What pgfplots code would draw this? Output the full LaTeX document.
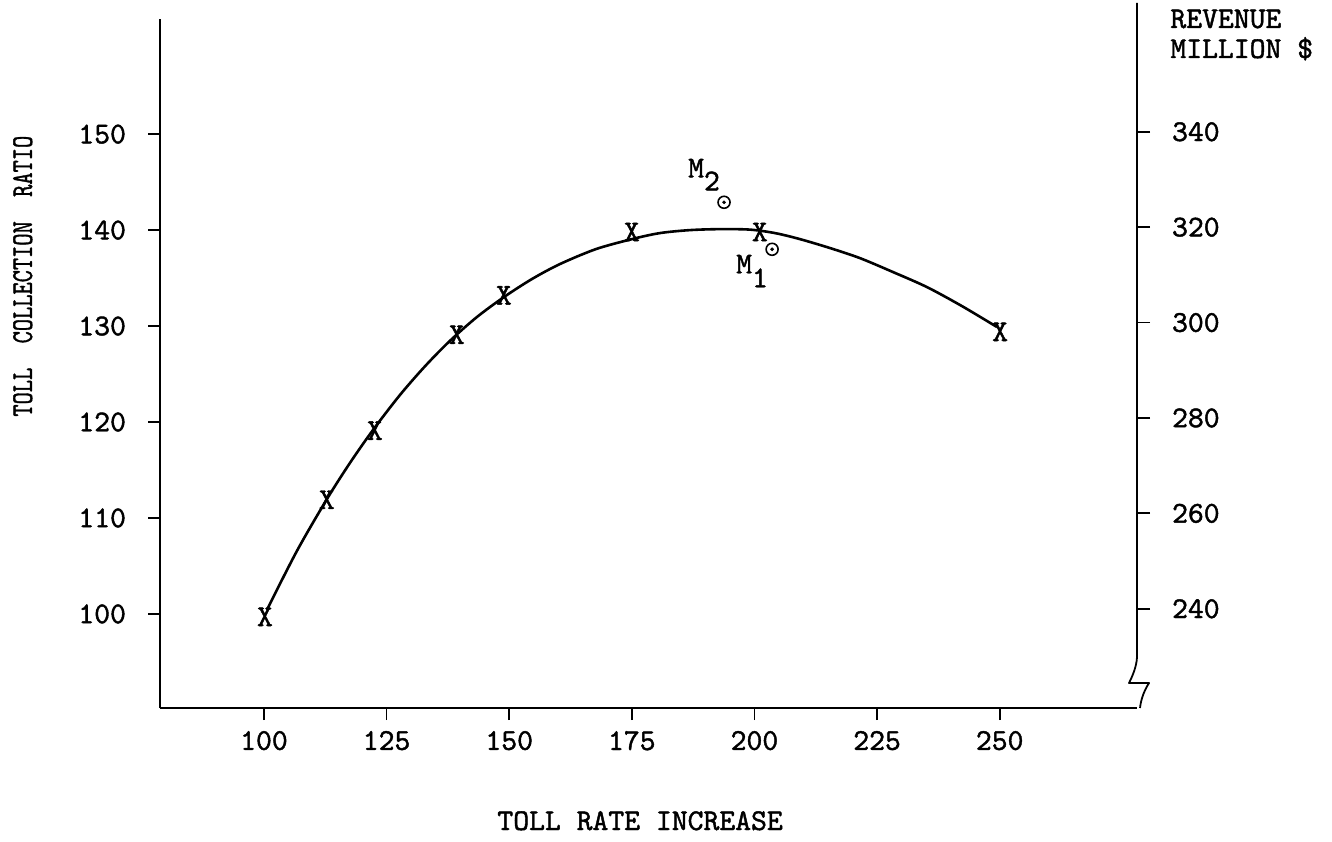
\documentclass[border=0pt]{standalone}
\usepackage{fontspec}
\setmainfont{Liberation Mono}
\newfontfamily\tyw{lmmono10-regular}[Extension=.otf, FakeBold=1.4]
\usepackage{pgfplots}
\pgfplotsset{compat=1.18}

\newcommand{\tw}{\tyw\fontsize{15.1}{18}\selectfont}

\begin{document}
\begin{tikzpicture}
\path[use as bounding box] (0,0) rectangle (666pt,420.5pt);

% left axis: toll collection ratio
\begin{axis}[
  at={(80pt,66.5pt)}, anchor=south west,
  scale only axis, width=488.5pt, height=344.5pt,
  xmin=78.8, xmax=278, ymin=90.2, ymax=162,
  axis x line=bottom, axis y line=left,
  axis line style={-, line width=0.9pt},
  tick align=outside, major tick length=6pt,
  tick style={line width=0.9pt, black},
  xtick={100,125,...,250}, ytick={100,110,...,150},
  minor tick num=0,
  font=\tw,
  xticklabel style={yshift=-2pt},
  yticklabel style={xshift=-7.5pt},
  /pgf/number format/assume math mode=true,
  clip=false,
]
% fitted curve
\addplot[smooth, line width=1.3pt] coordinates {
  (100.59,100.42) (106.71,106.56) (112.83,111.97) (117.52,115.73)
  (122.21,119.16) (127.71,122.81) (132.81,125.80) (137.91,128.46)
  (143.41,130.94) (148.92,133.02) (154.63,134.90) (160.34,136.46)
  (167.68,138.02) (175.02,139.06) (180.73,139.69) (186.85,140.00)
  (192.96,140.10) (199.08,140.05) (204.18,139.69) (209.28,139.06)
  (215.40,138.13) (221.51,137.08) (228.24,135.63) (235.18,134.06)
  (242.31,132.08) (249.45,129.90)
};
% observed points
\addplot[only marks, mark=text, text mark={X}, text mark as node=true,
  mark options={font=\tw}] coordinates {
  (100.2,99.7) (112.8,111.9) (122.6,119.1) (139.3,129.1)
  (148.9,133.2) (175.0,139.8) (201.1,139.8) (250.1,129.4)
};
% M1, M2
\addplot[only marks, mark=o, mark size=3pt, mark options={line width=0.8pt}]
  coordinates {(193.8,142.9) (203.6,138.0)};
\addplot[only marks, mark=*, mark size=0.7pt]
  coordinates {(193.8,142.9) (203.6,138.0)};
\node[anchor=base west, inner sep=0] at (axis cs:186.4,145.5) {M\raisebox{-6.5pt}{2}};
\node[anchor=base west, inner sep=0] at (axis cs:196.2,135.5) {M\raisebox{-7pt}{1}};
\end{axis}

% right axis: revenue
\begin{axis}[
  at={(80pt,66.5pt)}, anchor=south west,
  scale only axis, width=488.5pt, height=352.5pt,
  xmin=78.8, xmax=278, ymin=219.2, ymax=367,
  hide x axis, axis y line*=right,
  y axis line style={draw=none},
  tick align=outside, major tick length=6.5pt,
  tick style={line width=0.9pt, black},
  ytick={240,260,...,340},
  yticklabel style={anchor=west, xshift=7.5pt},
  font=\tw,
  /pgf/number format/assume math mode=true,
]
\addplot[draw=none] coordinates {(100,300)};
\end{axis}

% right axis line with break mark
\draw[line width=0.9pt, line join=round]
  (568.5pt,419pt) -- (568.5pt,92pt) .. controls (568.3pt,87pt) and (566pt,82pt) .. (564.5pt,79pt)
  -- (574.5pt,79pt) .. controls (572pt,75pt) and (570.5pt,71pt) .. (570pt,66.5pt);

\node[anchor=base west, inner sep=0, font=\tw] at (585pt,406.5pt) {REVENUE};
\node[anchor=base west, inner sep=0, font=\tw] at (585pt,391.5pt) {MILLION \$};
\node[anchor=base west, inner sep=0, font=\tw] at (248.5pt,5.5pt) {TOLL RATE INCREASE};
\node[rotate=90, anchor=base west, inner sep=0, font=\tw] at (16pt,212pt)
  {\scalebox{0.77}[1]{TOLL\ \ COLLECTION\ \ RATIO}};
\end{tikzpicture}
\end{document}
